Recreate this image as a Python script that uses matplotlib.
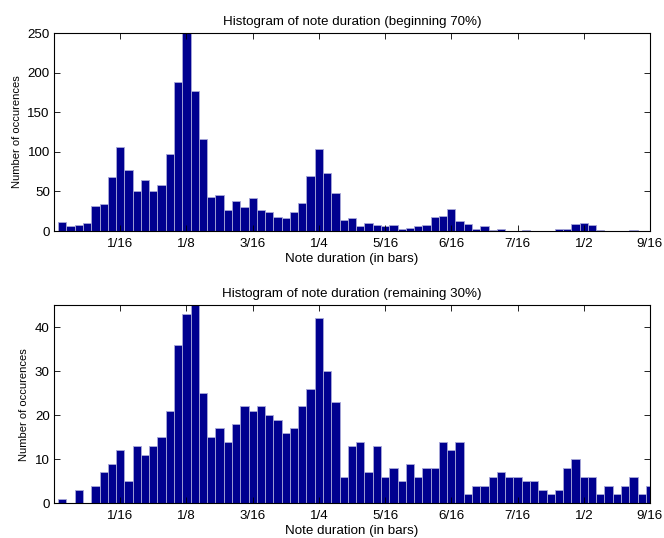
import matplotlib
matplotlib.use('Agg')
from matplotlib import pyplot as plt
import numpy as np

plt.rcParams['font.family'] = ['Liberation Sans', 'DejaVu Sans']
plt.rcParams['font.size'] = 9.6

# bins: centres at k/128 bars, k = 1..72
bin_idx = np.arange(1, 73)

# beginning 70%
counts_begin = [12, 6, 7, 10, 32, 34, 68, 106, 77, 51, 64, 51, 58, 97, 188, 250,
                177, 116, 43, 46, 26, 38, 30, 42, 27, 24, 18, 16, 24, 35, 70, 104,
                73, 48, 14, 16, 6, 10, 7, 6, 7, 3, 4, 6, 8, 18, 19, 28,
                13, 9, 2, 6, 1, 2, 0, 0, 1, 0, 0, 0, 3, 3, 9, 10,
                7, 1, 0, 0, 0, 1, 0, 0]

# remaining 30%
counts_rest = [1, 0, 3, 0, 4, 7, 9, 12, 5, 13, 11, 13, 15, 21, 36, 43,
               45, 25, 15, 17, 14, 18, 22, 21, 22, 20, 19, 16, 17, 22, 26, 42,
               30, 23, 6, 13, 14, 7, 13, 6, 8, 5, 9, 6, 8, 8, 14, 12,
               14, 2, 4, 4, 6, 7, 6, 6, 5, 5, 3, 2, 3, 8, 10, 6,
               6, 2, 4, 2, 4, 6, 2, 4]

tick_labels = ['1/16', '1/8', '3/16', '1/4', '5/16', '6/16', '7/16', '1/2', '9/16']

titles = ['Histogram of note duration (beginning 70%)',
          'Histogram of note duration (remaining 30%)']
ymax = [250, 45]
yticks = [[0, 50, 100, 150, 200, 250], [0, 10, 20, 30, 40]]

fig = plt.figure(figsize=(6.64, 5.38), dpi=100)
ax1 = fig.add_axes([0.0813, 0.5706, 0.8976, 0.368])
ax2 = fig.add_axes([0.0813, 0.0645, 0.8976, 0.3686])

for ax, counts, title, ym, yt in zip([ax1, ax2], [counts_begin, counts_rest],
                                     titles, ymax, yticks):
    x = bin_idx / 128.0
    ax.bar(x, counts, width=1 / 128.0, color='#00008F',
           edgecolor='#a8a8d8', linewidth=0.6, align='center')
    ax.set_xlim(0, 9 / 16.0)
    ax.set_ylim(0, ym)
    ax.set_xticks(np.arange(1, 10) / 16.0)
    ax.set_xticklabels(tick_labels)
    ax.set_yticks(yt)
    ax.tick_params(direction='in', top=True, right=True, length=4,
                   width=0.6, labelsize=9.6)
    ax.tick_params(axis='x', pad=5)
    ax.tick_params(axis='y', pad=3)
    for s in ax.spines.values():
        s.set_linewidth(0.8)
    ax.set_title(title, fontsize=9.6, pad=6)
    ax.set_xlabel('Note duration (in bars)', labelpad=2)
    ax.set_ylabel('Number of occurences', fontsize=8, labelpad=4)

fig.savefig('out.png', dpi=100)
